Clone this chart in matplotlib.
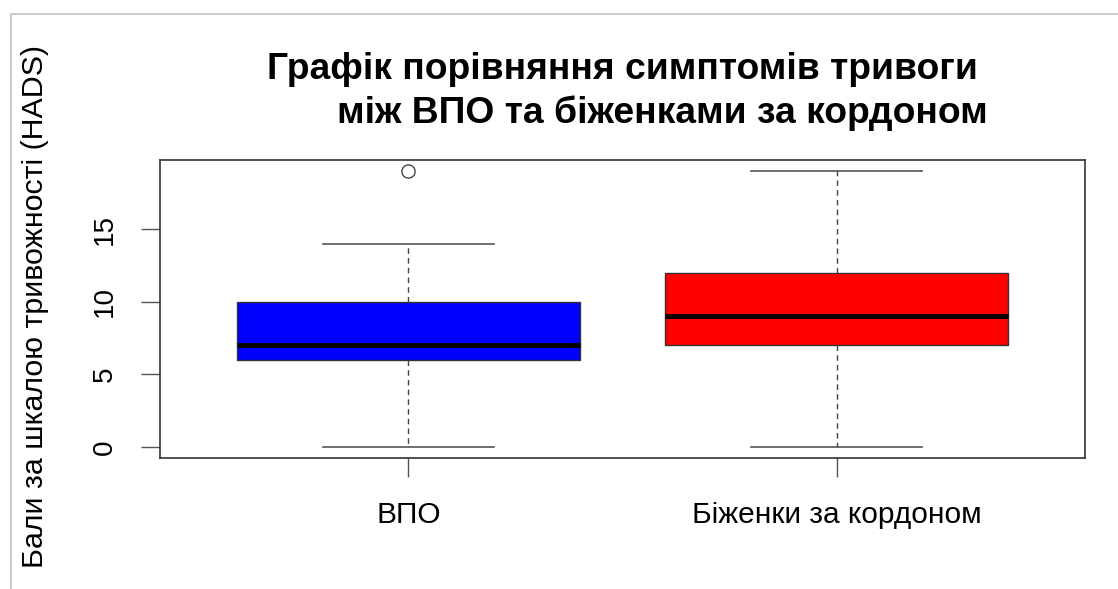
import matplotlib
matplotlib.use("Agg")
import matplotlib.pyplot as plt
from matplotlib.lines import Line2D

plt.rcParams['font.family'] = ['Liberation Sans', 'DejaVu Sans']

categories = ["ВПО", "Біженки за кордоном"]
box_colors = ["#0000ff", "#ff0000"]
whisker_low = [0, 0]
q1 = [6, 7]
median = [7, 9]
q3 = [10, 12]
whisker_high = [14, 19]
outliers = [[19], []]
yticks = [0, 5, 10, 15]

title_line1 = "Графік порівняння симптомів тривоги"
title_line2 = "між ВПО та біженками за кордоном"
ylabel = "Бали за шкалою тривожності (HADS)"

fig = plt.figure(figsize=(11.18, 5.89), dpi=100)
W, H = 1118, 589
ax = fig.add_axes([160 / W, 1 - 458 / H, (1085 - 160) / W, (458 - 160) / H])

stats = []
for i in range(len(categories)):
    stats.append(dict(med=median[i], q1=q1[i], q3=q3[i],
                      whislo=whisker_low[i], whishi=whisker_high[i],
                      fliers=outliers[i], label=categories[i]))

bp = ax.bxp(stats, positions=[1, 2], widths=0.8, patch_artist=True,
            showfliers=True,
            boxprops=dict(edgecolor='#333333', linewidth=1.0),
            medianprops=dict(color='black', linewidth=3.5, solid_capstyle='butt'),
            whiskerprops=dict(color='#444444', linewidth=1.0, linestyle=(0, (4, 3))),
            capprops=dict(color='#555555', linewidth=1.2),
            capwidths=0.4,
            flierprops=dict(marker='o', markerfacecolor='none',
                            markeredgecolor='#444444', markersize=9.5, markeredgewidth=1.0))
for patch, c in zip(bp['boxes'], box_colors):
    patch.set_facecolor(c)

ax.set_xlim(0.42, 2.58)
ax.set_ylim(-0.76, 19.76)
ax.set_yticks(yticks)
ax.set_yticklabels([str(t) for t in yticks], rotation=90, va='center', fontsize=20)
ax.set_xticks([1, 2])
ax.set_xticklabels(categories, fontsize=21.5)
ax.tick_params(axis='y', length=14, width=1.0, color='#555555', pad=16)
ax.tick_params(axis='x', length=14, width=1.0, color='#555555', pad=17)
for s in ax.spines.values():
    s.set_color('#333333')
    s.set_linewidth(1.2)

fig.text(622 / W, 1 - 79 / H, title_line1, ha='center', va='baseline',
         fontsize=26.8, fontweight='bold')
fig.text(662 / W, 1 - 123 / H, title_line2, ha='center', va='baseline',
         fontsize=26.8, fontweight='bold')
fig.text(35 / W, 1 - 307 / H, ylabel, rotation=90, ha='center', va='center',
         fontsize=21.9)

# screenshot frame lines
fig.add_artist(Line2D([11 / W, 1], [1 - 14 / H, 1 - 14 / H], transform=fig.transFigure,
                      color='#cccccc', linewidth=1.5))
fig.add_artist(Line2D([11 / W, 11 / W], [0, 1 - 14 / H], transform=fig.transFigure,
                      color='#cccccc', linewidth=1.5))

fig.savefig("out.png", dpi=100, facecolor='white')
